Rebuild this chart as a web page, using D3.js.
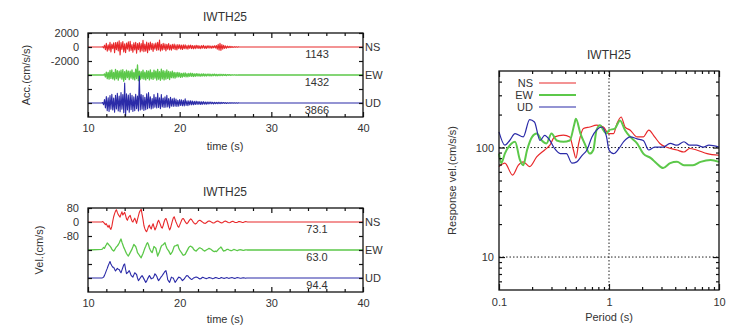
<!DOCTYPE html>
<html>
<head>
<meta charset="utf-8">
<script src="https://cdn.jsdelivr.net/npm/d3@7"></script>
<style>
  body { margin: 0; background: #fff; }
  svg text { font-family: "Liberation Sans", Arial, sans-serif; fill: #333; }
</style>
</head>
<body>
<div id="canvas"></div>
<script>
// ---- data ----
const station = "IWTH25";
const components = ["NS", "EW", "UD"];
const colors = ["#e8282a", "#5cc84a", "#2b2ba8"];

// waveform samples start at t0 with step dt (s)
const t0 = 11.5, dt = 0.1;

const accNS = [0,40,-120,260,-380,520,-610,300,-450,680,
  -720,410,-230,590,-800,650,-380,720,-560,900,
  -1143,620,-340,780,-690,450,-820,560,-300,740,
  -610,820,-480,350,-760,590,-420,680,-870,510,
  -390,640,-720,480,-560,950,-680,410,-600,720,
  -830,560,-470,690,-380,520,-640,440,-310,580,
  -500,660,-420,1000,-580,380,-470,520,-360,440,
  -560,400,-330,480,-410,290,-450,370,-260,420,
  -380,310,-420,350,-240,330,-300,270,-360,300,
  -250,320,-280,210,-300,260,-190,280,-240,220,
  -260,190,-230,250,-180,220,-210,170,-240,200,
  -170,230,-190,150,-210,180,-140,190,-160,140,
  -180,150,-120,170,-140,220,-300,380,-450,520,
  -480,360,-300,250,-200,160,-180,130,-110,100,
  -90,80,-70,60,-50,45,-40,30,-25,20,0];
const accEW = [0,10,-30,150,-280,410,-520,380,-600,650,
  -480,720,-560,380,-690,800,-520,610,-740,560,
  -420,680,-590,750,-900,480,-620,700,-380,560,
  -670,540,-450,720,-600,380,-710,820,-500,1432,
  -800,560,-640,470,-520,690,-580,420,-700,630,
  -480,560,-690,740,-540,380,-620,690,-450,560,
  -720,810,-600,480,-750,850,-560,620,-700,540,
  -600,720,-480,520,-640,460,-380,550,-420,380,
  -450,340,-300,380,-260,310,-340,240,-290,260,
  -230,300,-250,190,-270,240,-200,260,-180,220,
  -210,170,-190,200,-150,180,-160,140,-170,150,
  -130,160,-140,120,-150,130,-110,140,-120,100,
  -120,110,-90,120,-100,90,-110,80,-90,100,
  -80,90,-70,80,-60,70,-80,60,-50,60,
  -50,40,-45,35,-30,40,-25,20,-20,15,0];
const accUD = [0,60,-250,480,-700,920,-1100,760,-1200,1050,
  -900,1250,-1000,700,-1300,1100,-850,1400,-1150,980,
  -1250,1500,-900,1200,-1400,2860,-1900,1300,-1000,1150,
  -1300,1400,-950,1100,-1200,900,-1100,1250,-800,1000,
  -1150,3866,-1000,1200,-900,1100,-1050,800,-950,1300,
  -800,1500,-700,900,-850,650,-750,1200,-600,800,
  -700,1400,-650,750,-800,1200,-550,700,-650,900,
  -600,1100,-550,650,-700,800,-450,600,-500,700,
  -450,550,-500,400,-450,500,-350,450,-400,380,
  -420,600,-350,320,-380,300,-280,330,-260,280,
  -250,240,-220,260,-200,220,-190,200,-210,180,
  -170,190,-160,150,-170,140,-130,150,-120,130,
  -120,110,-130,100,-110,90,-100,110,-90,80,
  -90,80,-70,75,-65,60,-70,55,-50,60,
  -45,50,-40,35,-40,30,-30,25,-25,20,0];
const accPeaks = ["1143", "1432", "3866"];

const velNS = [0,3,-2,-8,-15,-10,-22,-30,-18,-35,
  -42,-25,5,30,48,62,70,55,42,35,
  28,45,58,40,48,55,38,18,10,25,
  32,38,20,5,0,12,22,8,-8,15,
  35,55,65,73,45,15,-20,-38,-50,-55,
  -42,-25,-18,-32,-40,-22,-10,-28,-45,-35,
  -20,0,10,-2,-15,-30,-35,-20,0,15,
  20,8,-10,-30,-45,-35,-15,5,22,30,
  15,0,-12,-25,-30,-18,-5,8,18,20,
  12,2,-6,-10,-4,5,12,18,14,6,
  -2,-8,-12,-9,-3,4,8,10,7,3,
  -1,-5,-7,-8,-4,0,4,6,5,2,
  -2,-5,-6,-4,0,3,6,5,2,-1,
  -4,-5,-3,1,4,5,3,0,-3,-4,
  -3,0,3,4,2,-1,-3,-3,-1,2,
  3,2,0,-2,-3,-1,1,2,1,0];
const velEW = [3,8,14,10,22,30,40,34,28,22,
  15,5,-2,-6,0,10,18,23,30,40,
  52,63,45,30,15,4,-8,-20,-28,-34,
  -25,-15,-5,5,18,32,26,20,5,-15,
  -22,-30,-38,-44,-32,-20,-5,10,22,35,
  42,30,12,0,-10,-15,2,20,15,10,
  -12,-35,-22,-10,8,22,28,30,36,42,
  25,10,2,-5,-15,-25,-18,-10,5,20,
  24,25,28,30,12,0,-8,-15,-24,-30,
  -28,-25,-15,-5,5,15,20,22,18,15,
  6,0,-4,-6,0,5,10,13,10,8,
  2,-2,-6,-4,0,3,6,9,7,4,
  0,-4,-8,-9,-6,-9,-4,2,8,12,
  17,10,0,-6,-4,-3,2,4,3,0,
  -2,-4,-3,0,3,2,0,-2,-3,-1,
  1,2,1,0,-2,-2,0,1,1,0];
const velUD = [0,2,5,15,28,42,55,70,82,94,
  80,70,62,61,50,40,48,55,50,48,
  38,30,45,60,75,80,50,25,30,35,
  42,30,15,10,5,18,30,25,20,0,
  -15,-8,0,8,14,5,-5,-15,-25,-18,
  -5,5,14,5,-5,-2,0,10,24,18,
  10,-5,-15,-8,0,8,14,22,30,38,
  42,20,-10,-18,-25,-10,5,2,0,-12,
  -25,-18,-10,-2,5,3,0,-8,-15,-10,
  -5,3,10,14,12,5,0,-5,-8,-6,
  0,2,4,6,4,2,-3,-5,-4,0,
  4,3,0,-2,-4,-2,0,3,2,0,
  -2,-4,-3,0,3,2,0,-2,-3,-1,
  2,2,0,-2,-2,0,2,1,-1,-2,
  0,1,2,1,-1,-2,-1,1,2,1,
  0,-1,-1,0,1,1,0,-1,0,0];
const velPeaks = ["73.1", "63.0", "94.4"];

// response velocity spectra: [period (s), value]
const specNS = [[0.1,67],[0.113,72],[0.133,56],[0.15,69],[0.166,74],[0.19,67],[0.22,82],[0.26,95],[0.29,105],[0.32,125],[0.385,130],[0.44,125],[0.475,95],[0.5,80],[0.53,109],[0.585,149],[0.67,154],[0.77,160],[0.89,154],[0.99,134],[1.1,134],[1.18,165],[1.29,190],[1.4,154],[1.56,144],[1.8,125],[2.05,125],[2.3,144],[2.6,125],[2.9,109],[3.3,101],[4.15,95],[4.8,91],[5.4,98],[6.25,95],[7.8,88],[10,85]];
const specEW = [[0.1,88],[0.105,72],[0.113,88],[0.13,109],[0.14,113],[0.155,77],[0.166,69],[0.18,95],[0.2,125],[0.22,134],[0.245,116],[0.27,109],[0.3,134],[0.335,116],[0.385,113],[0.44,116],[0.485,165],[0.5,183],[0.55,134],[0.6,109],[0.67,88],[0.72,95],[0.77,144],[0.83,160],[0.89,144],[0.95,134],[1.0,144],[1.13,149],[1.26,177],[1.4,144],[1.56,125],[1.8,109],[2.05,88],[2.4,80],[2.7,72],[3.1,65],[3.6,72],[4.15,74],[4.8,69],[5.8,69],[6.8,74],[8.4,77],[10,74]];
const specUD = [[0.1,139],[0.113,105],[0.125,116],[0.14,134],[0.166,125],[0.19,180],[0.21,171],[0.236,116],[0.26,129],[0.29,116],[0.32,98],[0.36,88],[0.41,88],[0.46,72],[0.51,74],[0.57,85],[0.63,95],[0.7,125],[0.77,144],[0.86,154],[0.95,125],[1.0,95],[1.1,88],[1.23,98],[1.36,113],[1.56,125],[1.8,120],[2.05,116],[2.3,95],[2.6,101],[3.1,101],[3.6,109],[4.15,105],[4.8,113],[5.4,105],[6.25,105],[7.2,101],[8.1,105],[10,101]];

const timeMajor = [10, 20, 30, 40];
const timeMinor = [12, 14, 16, 18, 22, 24, 26, 28, 32, 34, 36, 38];
const accTicks = [2000, 0, -2000, -4000, -6000, -8000];
const accLabelled = [2000, 0, -2000];
const velTicks = [80, 0, -80, -160, -240, -320];
const velLabelled = [80, 0, -80];
const periodMajor = [0.1, 1, 10];
const periodMinor = [0.2,0.3,0.4,0.5,0.6,0.7,0.8,0.9,2,3,4,5,6,7,8,9];
const specMajor = [10, 100];
const specMinor = [6,7,8,9,20,30,40,50,60,70,80,90,200,300,400];
const specGrid = [10, 100];

// ---- drawing ----
const svg = d3.select("#canvas").append("svg").attr("width", 735).attr("height", 325);

const frame = (x, y) => {
  svg.append("rect")
    .attr("x", x.range()[0]).attr("y", y.range()[1])
    .attr("width", x.range()[1] - x.range()[0])
    .attr("height", y.range()[0] - y.range()[1])
    .attr("fill", "none").attr("stroke", "#111").attr("stroke-width", 1.3);
};

const tickGroup = (axis, tx, ty) => {
  const g = svg.append("g").attr("transform", `translate(${tx},${ty})`).call(axis);
  g.select(".domain").remove();
  g.selectAll("line").attr("stroke", "#111").attr("stroke-width", 1.2);
  g.selectAll("text").attr("font-size", 11).attr("fill", "#333")
    .style("font-family", '"Liberation Sans", Arial, sans-serif');
  return g;
};

const wavePanel = (opts) => {
  const x = d3.scaleLinear().domain([10, 40]).range([88, 363]);
  const y = d3.scaleLinear().domain(opts.domain).range([opts.bottom, opts.top]);

  // series
  const line = d3.line().x(d => x(d[0])).y(d => y(d[1]));
  opts.series.forEach((vals, k) => {
    const off = opts.offsets[k];
    const pts = [[10, off]].concat(vals.map((v, i) => [t0 + i * dt, v + off]), [[40, off]]);
    svg.append("path").datum(pts)
      .attr("d", line).attr("fill", "none")
      .attr("stroke", colors[k]).attr("stroke-width", k === 1 ? 1.3 : 1.1)
      .attr("stroke-linejoin", "round");
    svg.append("text").attr("x", 365).attr("y", y(off) + 4)
      .attr("font-size", 11).text(components[k]);
    svg.append("text").attr("x", 317).attr("y", y(off) + 11)
      .attr("text-anchor", "middle").attr("font-size", 11).text(opts.peaks[k]);
  });

  frame(x, y);
  const [yb, yt] = y.range();
  tickGroup(d3.axisBottom(x).tickValues(timeMajor).tickSize(-5).tickPadding(7).tickFormat(d3.format("d")), 0, yb);
  tickGroup(d3.axisBottom(x).tickValues(timeMinor).tickSize(-3).tickFormat(""), 0, yb);
  tickGroup(d3.axisTop(x).tickValues(timeMajor).tickSize(-5).tickFormat(""), 0, yt);
  tickGroup(d3.axisTop(x).tickValues(timeMinor).tickSize(-3).tickFormat(""), 0, yt);
  tickGroup(d3.axisLeft(y).tickValues(opts.ticks).tickSize(-4).tickPadding(9)
    .tickFormat(d => opts.labelled.includes(d) ? d : ""), 88, 0);
  tickGroup(d3.axisRight(y).tickValues(opts.ticks).tickSize(-4).tickFormat(""), 363, 0);

  svg.append("text").attr("x", 225).attr("y", opts.top - 12)
    .attr("text-anchor", "middle").attr("font-size", 12).text(station);
  svg.append("text").attr("x", 225).attr("y", opts.bottom + opts.xLabelGap)
    .attr("text-anchor", "middle").attr("font-size", 11).text("time (s)");
  svg.append("text")
    .attr("transform", `translate(${opts.labelX},${(opts.top + opts.bottom) / 2}) rotate(-90)`)
    .attr("text-anchor", "middle").attr("font-size", 11).text(opts.label);
};

wavePanel({
  domain: [-10000, 2000], top: 33, bottom: 117, xLabelGap: 33,
  series: [accNS, accEW, accUD], offsets: [0, -4000, -8000], peaks: accPeaks,
  ticks: accTicks, labelled: accLabelled, label: "Acc.(cm/s/s)", labelX: 30
});

wavePanel({
  domain: [-400, 80], top: 208, bottom: 292, xLabelGap: 31,
  series: [velNS, velEW, velUD], offsets: [0, -160, -320], peaks: velPeaks,
  ticks: velTicks, labelled: velLabelled, label: "Vel.(cm/s)", labelX: 43
});

// response spectrum
const sx = d3.scaleLog().domain([0.1, 10]).range([499, 719]);
const sy = d3.scaleLog().domain([5, 500]).range([290, 71]);

svg.append("line").attr("x1", sx(1)).attr("x2", sx(1)).attr("y1", 71).attr("y2", 290)
  .attr("stroke", "#222").attr("stroke-dasharray", "1.5,2");
specGrid.forEach(v => {
  svg.append("line").attr("x1", 499).attr("x2", 719).attr("y1", sy(v)).attr("y2", sy(v))
    .attr("stroke", "#222").attr("stroke-dasharray", "1.5,2");
});

const sline = d3.line().x(d => sx(d[0])).y(d => sy(d[1])).curve(d3.curveMonotoneX);
[specNS, specEW, specUD].forEach((s, k) => {
  svg.append("path").datum(s).attr("d", sline).attr("fill", "none")
    .attr("stroke", colors[k]).attr("stroke-width", k === 1 ? 2 : 1.2);
});

frame(sx, sy);
tickGroup(d3.axisBottom(sx).tickValues(periodMajor).tickSize(-6).tickPadding(8).tickFormat(d => d), 0, 290);
tickGroup(d3.axisBottom(sx).tickValues(periodMinor).tickSize(-3).tickFormat(""), 0, 290);
tickGroup(d3.axisTop(sx).tickValues(periodMajor).tickSize(-6).tickFormat(""), 0, 71);
tickGroup(d3.axisTop(sx).tickValues(periodMinor).tickSize(-3).tickFormat(""), 0, 71);
tickGroup(d3.axisLeft(sy).tickValues(specMajor).tickSize(-6).tickPadding(5).tickFormat(d => d), 499, 0);
tickGroup(d3.axisLeft(sy).tickValues(specMinor).tickSize(-3).tickFormat(""), 499, 0);
tickGroup(d3.axisRight(sy).tickValues(specMajor).tickSize(-6).tickFormat(""), 719, 0);
tickGroup(d3.axisRight(sy).tickValues(specMinor).tickSize(-3).tickFormat(""), 719, 0);

// legend
components.forEach((c, k) => {
  const ly = 83 + k * 12;
  svg.append("text").attr("x", 533).attr("y", ly + 4).attr("text-anchor", "end")
    .attr("font-size", 11).text(c);
  svg.append("line").attr("x1", 539).attr("x2", 576).attr("y1", ly).attr("y2", ly)
    .attr("stroke", colors[k]).attr("stroke-width", k === 1 ? 2 : 1.2);
});

svg.append("text").attr("x", 609).attr("y", 59).attr("text-anchor", "middle")
  .attr("font-size", 12).text(station);
svg.append("text").attr("x", 609).attr("y", 321).attr("text-anchor", "middle")
  .attr("font-size", 11).text("Period (s)");
svg.append("text").attr("transform", `translate(456,${(71 + 290) / 2}) rotate(-90)`)
  .attr("text-anchor", "middle").attr("font-size", 11).text("Response vel.(cm/s/s)");
</script>
</body>
</html>
